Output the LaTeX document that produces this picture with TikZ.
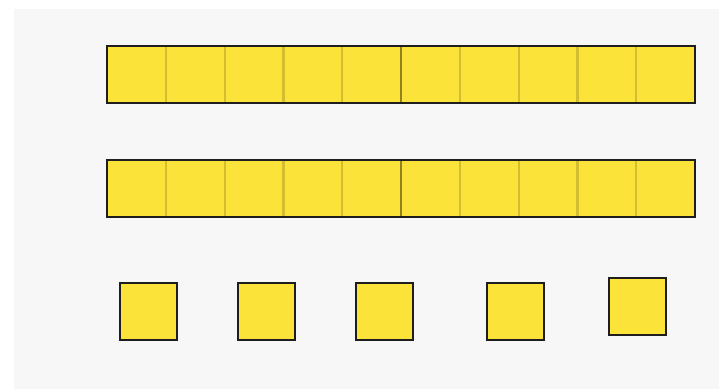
\documentclass[tikz,border=0pt]{standalone}
\usetikzlibrary{positioning}
\definecolor{tile}{HTML}{FCE33A}
\definecolor{edge}{HTML}{1E1E1E}
\definecolor{paper}{HTML}{F7F7F7}
\tikzset{
  cell/.style={fill=tile, draw=none, minimum width=58.8bp, minimum height=57bp,
               inner sep=0pt, outer sep=0pt},
  unit/.style={fill=tile, draw=edge, line width=2bp, minimum size=57bp, inner sep=0pt},
  divider/.style={draw=black, opacity=0.16, line width=2.2bp},
  middiv/.style={draw=black, opacity=0.42, line width=2.2bp},
  rim/.style={draw=edge, line width=2bp},
}

\begin{document}
\begin{tikzpicture}[x=1bp,y=-1bp]
  \useasboundingbox (0,0) rectangle (719,389);
  \fill[white] (0,0) rectangle (719,389);
  \fill[paper] (14,9) rectangle (719,389);
  % two ten-bars
  \foreach \r/\y in {a/74.5, b/188.5} {
    \foreach \i in {1,...,10}
      \node[cell] (\r\i) at ({107+58.8*(\i-0.5)},\y) {};
    \foreach \i in {1,2,3,4,6,7,8,9}
      \draw[divider] (\r\i.north east) -- (\r\i.south east);
    \draw[middiv] (\r5.north east) -- (\r5.south east);
    \draw[rim] (\r1.north west) rectangle (\r10.south east);
  }
  % five single units
  \foreach \n/\x/\y in {s1/148.5/311, s2/266.5/311, s3/384/311, s4/515/311, s5/637/306.5}
    \node[unit] (\n) at (\x,\y) {};
\end{tikzpicture}
\end{document}
